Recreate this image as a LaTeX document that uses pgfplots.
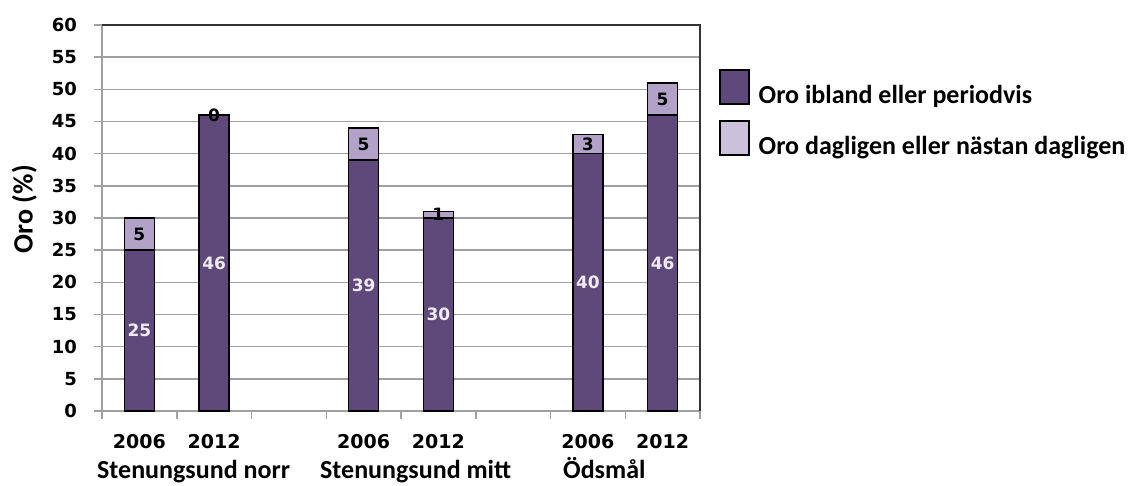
\documentclass[border=0pt]{standalone}
\usepackage{pgfplots}
\pgfplotsset{compat=1.18}
\usepackage{fontspec}
\setmainfont{Carlito}
\newfontfamily\dv{DejaVu Sans}
\newcommand\yt[1]{{\fontsize{18pt}{18pt}\selectfont\dv\bfseries #1}}
\newcommand\yr[1]{{\fontsize{19pt}{19pt}\selectfont\dv\bfseries #1}}
\definecolor{darkp}{HTML}{5F497A}
\definecolor{lightp}{HTML}{B3A2C7}
\definecolor{legp}{HTML}{CCC1DA}
\definecolor{lbl}{HTML}{EFEAF4}
\definecolor{gridc}{HTML}{A0A0A0}
\begin{document}
\begin{tikzpicture}
\useasboundingbox (0,0) rectangle (1136pt,-485pt);
\begin{axis}[
  at={(102pt,-411pt)}, anchor=south west,
  scale only axis, width=598pt, height=386pt,
  xmin=-0.5, xmax=7.5, ymin=0, ymax=60,
  ytick={0,5,...,60},
  yticklabels={\yt{0},\yt{5},\yt{10},\yt{15},\yt{20},\yt{25},\yt{30},\yt{35},\yt{40},\yt{45},\yt{50},\yt{55},\yt{60}},
  xtick={-0.5,0.5,...,7.5}, xticklabels={},
  extra x ticks={0,1,3,4,6,7},
  extra x tick labels={\yr{2006},\yr{2012},\yr{2006},\yr{2012},\yr{2006},\yr{2012}},
  extra x tick style={tick style={draw=none}, xticklabel style={anchor=center, yshift=-23pt}},
  tick align=outside, major tick length=8pt,
  tick style={gridc, line width=1.5pt},
  xtick pos=bottom, ytick pos=left,
  ymajorgrids, grid style={gridc, line width=1.5pt},
  axis line style={gridc, line width=1.5pt},
  axis x line*=bottom, axis y line*=left,
  yticklabel style={anchor=east, inner sep=0pt, xshift=-17pt},
  xticklabel style={inner sep=0pt},
  ylabel={Oro (\%)},
  ylabel style={font=\bfseries\fontsize{28}{28}\selectfont, at={(axis description cs:-0.13,0.523)}, anchor=center},
  legend style={at={(axis description cs:1.0318,0.886)}, anchor=north west, draw=none, fill=none,
    inner sep=0pt, row sep=15pt, column sep=9pt, nodes={inner sep=0pt},
    font=\bfseries\fontsize{26}{26}\selectfont},
  legend cell align=left,
  legend image code/.code={\draw[#1, line width=1.5pt] (0pt,-8.6pt) rectangle (29pt,25.4pt);},
  clip=false,
]
% full bar (light segment on top)
\addplot[ybar, bar width=0.4, bar shift=0pt, fill=lightp, draw=black, line width=1.5pt, forget plot]
  coordinates {(0,30) (1,46) (3,44) (4,31) (6,43) (7,51)};
% dark lower segment
\addplot[ybar, bar width=0.4, bar shift=0pt, fill=darkp, draw=black, line width=1.5pt, forget plot]
  coordinates {(0,25) (1,46) (3,39) (4,30) (6,40) (7,46)};
% labels of the dark segment
\addplot[draw=none, mark=none, forget plot, nodes near coords, point meta=explicit symbolic,
  every node near coord/.style={anchor=center, inner sep=0pt, text=lbl, font=\dv\bfseries\fontsize{17}{17}\selectfont}]
  coordinates {(0,12.5) [25] (1,23) [46] (3,19.5) [39] (4,15) [30] (6,20) [40] (7,23) [46]};
% labels of the light segment
\addplot[draw=none, mark=none, forget plot, nodes near coords, point meta=explicit symbolic,
  every node near coord/.style={anchor=center, inner sep=0pt, text=black, font=\dv\bfseries\fontsize{17}{17}\selectfont}]
  coordinates {(0,27.5) [5] (1,46) [0] (3,41.5) [5] (4,30.5) [1] (6,41.5) [3] (7,48.5) [5]};
\addlegendimage{fill=darkp, draw=black}
\addlegendentry{Oro ibland eller periodvis}
\addlegendimage{fill=legp, draw=black}
\addlegendentry{Oro dagligen eller nästan dagligen}
\draw[black!80, line width=1.5pt] (rel axis cs:0,1) -- (rel axis cs:1,1) -- (rel axis cs:1,0);
\node[anchor=base west, inner sep=0pt, font=\bfseries\fontsize{26}{26}\selectfont] at (rel axis cs:-0.0084,-0.176) {Stenungsund norr};
\node[anchor=base west, inner sep=0pt, font=\bfseries\fontsize{26}{26}\selectfont] at (rel axis cs:0.3645,-0.176) {Stenungsund mitt};
\node[anchor=base west, inner sep=0pt, font=\bfseries\fontsize{26}{26}\selectfont] at (rel axis cs:0.7709,-0.176) {Ödsmål};
\end{axis}
\end{tikzpicture}
\end{document}
